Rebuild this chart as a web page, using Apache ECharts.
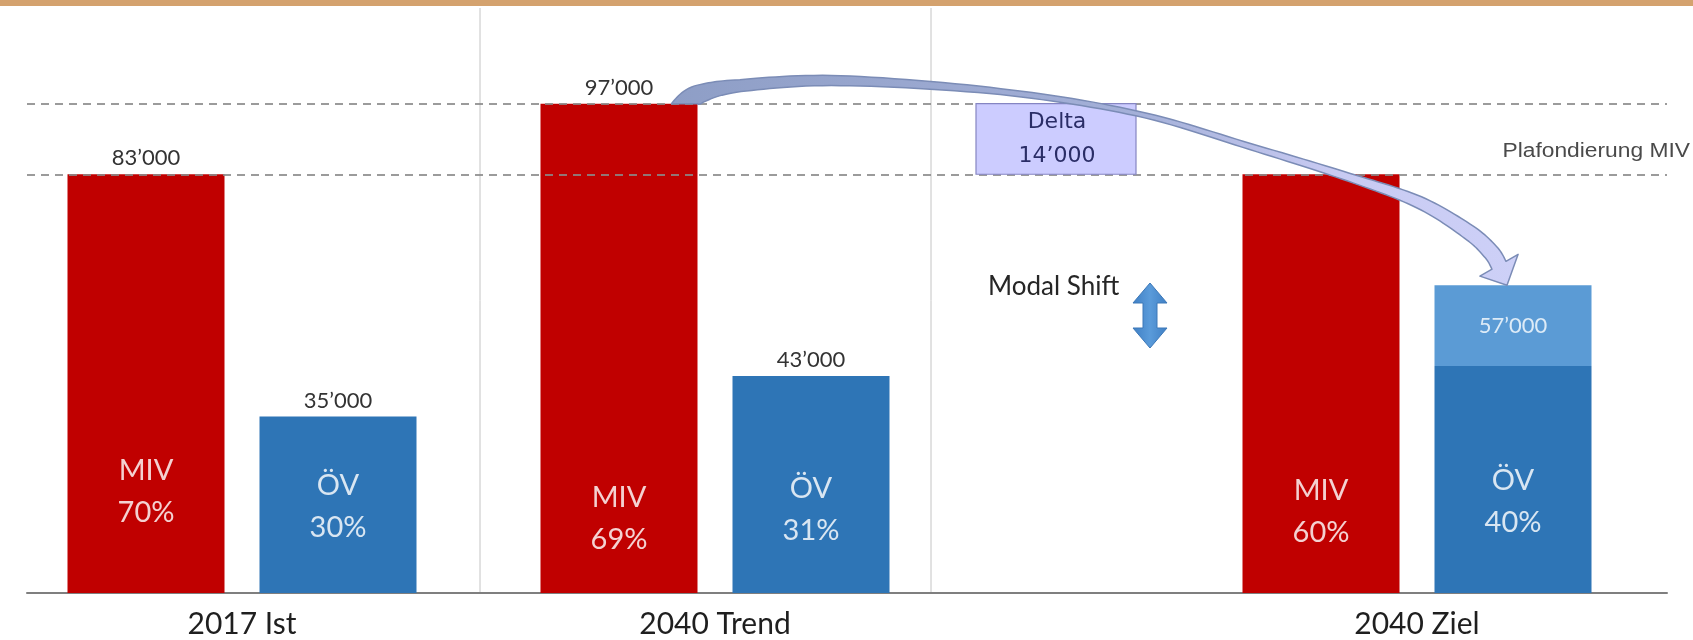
<!DOCTYPE html>
<html><head><meta charset="utf-8">
<script src="https://cdn.jsdelivr.net/npm/echarts@6/dist/echarts.min.js"></script>
<style>html,body{margin:0;padding:0;background:#fff}#c{width:1693px;height:640px}</style>
</head><body><div id="c"></div>
<script>
// ---- data ----
const categories = ["2017 Ist", "2040 Trend", "2040 Ziel"];
const mivValues  = [83000, 97000, 83000];
const mivShares  = [70, 69, 60];
const ovValues   = [35000, 43000, 45000];   // dark ÖV part (bar height)
const ovShift    = [0, 0, 16000];           // light ÖV part (modal shift, Ziel)
const ovTotals   = [35000, 43000, 57000];   // ÖV labels
const ovShares   = [30, 31, 40];
const capValue   = 83000;                   // Plafondierung MIV
const yMax       = 100000;

// ---- layout / style ----
const RED = '#C00000', BLUE = '#2E75B6', LIGHT = '#5B9BD5';
const BAR_W = 157, GAP_PX = 35;
const groupCenters = [242, 715, 1417];
const mivLabelDist = [59, 32, 39];
const ovLabelDist  = [44, 41, 49];
const GRID_TOP = 88.5, GRID_BOTTOM = 47;
const FONT = 'Lato, "Open Sans", sans-serif';

function fmt(n){ return String(n).replace(/\B(?=(\d{3})+(?!\d))/g, '\u2019'); }

const chart = echarts.init(document.getElementById('c'), null, {renderer:'canvas'});

const grids = [{left:27, right:26, top:GRID_TOP, bottom:GRID_BOTTOM, outerBoundsMode:'none'}];
const xAxes = [{type:'value', gridIndex:0, min:0, max:1, axisLine:{show:true, lineStyle:{color:'#7F7F7F', width:2}},
  axisTick:{show:false}, axisLabel:{show:false}, splitLine:{show:false}}];
const yAxes = [{type:'value', gridIndex:0, min:0, max:yMax, show:false, splitLine:{show:false}}];

const innerLabel = {show:true, position:'insideBottom', color:'rgba(255,255,255,0.82)',
  fontFamily:FONT, fontSize:29, lineHeight:42};
const topLabel = {show:true, position:'top', distance:5, color:'#333333', fontFamily:FONT, fontSize:22};

const series = [{
  type:'line', xAxisIndex:0, yAxisIndex:0, data:[], silent:true, z:6,
  markLine:{silent:true, symbol:['none','none'], label:{show:false}, animation:false,
    lineStyle:{type:[8,6], color:'#8a8a8a', width:2, opacity:0.85},
    data:[{yAxis: mivValues[1]}, {yAxis: capValue}]}
}];

categories.forEach((cat, i) => {
  const g = i + 1;
  grids.push({left: groupCenters[i] - 200, width: 400, top: GRID_TOP, bottom: GRID_BOTTOM, outerBoundsMode:'none'});
  xAxes.push({type:'category', gridIndex:g, data:[cat], boundaryGap:true,
    axisLine:{show:false}, axisTick:{show:false}, splitLine:{show:false},
    axisLabel:{show:true, color:'#1f1f1f', fontFamily:FONT, fontSize:30, margin:15, lineHeight:32}});
  yAxes.push({type:'value', gridIndex:g, min:0, max:yMax, show:false, splitLine:{show:false}});
  const base = {type:'bar', xAxisIndex:g, yAxisIndex:g, barWidth:BAR_W, barGap:(GAP_PX/BAR_W*100)+'%', z:2};
  series.push(Object.assign({}, base, {name:'MIV', stack:'miv'+i, data:[mivValues[i]], itemStyle:{color:RED},
    label:Object.assign({}, innerLabel, {distance:mivLabelDist[i], formatter:'MIV\n' + mivShares[i] + '%'})}));
  if (mivValues[i] !== capValue || i === 0) {
    series.push(Object.assign({}, base, {name:'MIV Wert', stack:'miv'+i, data:[0], itemStyle:{color:RED},
      label:Object.assign({}, topLabel, {formatter: fmt(mivValues[i])})}));
  }
  series.push(Object.assign({}, base, {name:'ÖV', stack:'ov'+i, data:[ovValues[i]], itemStyle:{color:BLUE},
    label:Object.assign({}, innerLabel, {distance:ovLabelDist[i], formatter:'ÖV\n' + ovShares[i] + '%'})}));
  if (ovShift[i] > 0) {
    series.push(Object.assign({}, base, {name:'ÖV Shift', stack:'ov'+i, data:[ovShift[i]], itemStyle:{color:LIGHT},
      label:{show:true, position:'inside', color:'#DDEBF7', fontFamily:FONT, fontSize:22, formatter: fmt(ovTotals[i])}}));
  } else {
    series.push(Object.assign({}, base, {name:'ÖV Wert', stack:'ov'+i, data:[0], itemStyle:{color:BLUE},
      label:Object.assign({}, topLabel, {formatter: fmt(ovTotals[i])})}));
  }
});

chart.setOption({animation:false, backgroundColor:'#ffffff', grid:grids, xAxis:xAxes, yAxis:yAxes, series:series});

// ---- annotations (anchored on the chart's own scales) ----
const yPix = v => chart.convertToPixel({yAxisIndex:0}, v);
const bandX = i => chart.convertToPixel({xAxisIndex:i+1}, categories[i]);
const mivX = i => bandX(i) - (BAR_W + GAP_PX) / 2;
const ovX  = i => bandX(i) + (BAR_W + GAP_PX) / 2;
const baseY = yPix(0);

// curved "delta" arrow from Trend MIV top to Ziel ÖV top
const S = [mivX(1) + BAR_W/2 - 13, yPix(mivValues[1])];
const T = [ovX(2) - 6, yPix(ovValues[2] + ovShift[2])];
const cl = [
  [S[0], S[1], 26], [S[0]+16, S[1]-10, 18], [S[0]+56, S[1]-18, 12], [S[0]+156, S[1]-23, 10],
  [S[0]+316, S[1]-12, 6], [S[0]+453, S[1]+10, 5], [S[0]+566, S[1]+43, 6],
  [T[0]-158, T[1]-108, 8], [T[0]-88, T[1]-83, 12], [T[0]-38, T[1]-53, 15], [T[0]-16, T[1]-33, 16], [T[0]-8, T[1]-20, 16]
];
const STEPS = 14;
function spline(pts, steps){
  const out = [];
  for (let i = 0; i < pts.length - 1; i++) {
    const p0 = pts[Math.max(i-1,0)], p1 = pts[i], p2 = pts[i+1], p3 = pts[Math.min(i+2, pts.length-1)];
    for (let s = 0; s < steps; s++) {
      const t = s/steps, t2 = t*t, t3 = t2*t;
      const f = (a,b,c,d) => 0.5*((2*b) + (-a+c)*t + (2*a-5*b+4*c-d)*t2 + (-a+3*b-3*c+d)*t3);
      out.push({x:f(p0[0],p1[0],p2[0],p3[0]), y:f(p0[1],p1[1],p2[1],p3[1]), w:p1[2] + (p2[2]-p1[2])*t});
    }
  }
  const L = pts[pts.length-1]; out.push({x:L[0], y:L[1], w:L[2]});
  return out;
}
const sm = spline(cl, STEPS);
const left = [], right = [];
let nLast = [0,0];
sm.forEach((p, k) => {
  const a = sm[Math.max(k-1,0)], b = sm[Math.min(k+1, sm.length-1)];
  const tx = b.x - a.x, ty = b.y - a.y, len = Math.hypot(tx, ty) || 1;
  let nx = -ty/len, ny = tx/len;
  if (k < STEPS) {               // tail sits flat on the bar top
    const al = k / STEPS;
    nx = (1-al)*1 + al*nx; ny = al*ny;
    const l2 = Math.hypot(nx, ny) || 1; nx /= l2; ny /= l2;
  }
  left.push([p.x + nx*p.w/2, p.y + ny*p.w/2]);
  right.push([p.x - nx*p.w/2, p.y - ny*p.w/2]);
  nLast = [nx, ny];
});
const H = sm[sm.length-1];
const arrowPts = left.concat([[H.x + nLast[0]*22, H.y + nLast[1]*22], T, [H.x - nLast[0]*22, H.y - nLast[1]*22]], right.reverse());

// Modal shift double arrow
const mx = 1150, my = 315.5;
const dbl = [[0,-32.5],[17,-12.5],[7,-12.5],[7,12.5],[17,12.5],[0,32.5],[-17,12.5],[-7,12.5],[-7,-12.5],[-17,-12.5]]
  .map(p => [mx + p[0], my + p[1]]);

const yTop = yPix(mivValues[1]), yCap = yPix(capValue);

chart.setOption({graphic:[
  {type:'rect', shape:{x:0, y:0, width:1693, height:6}, style:{fill:'#D4A26E'}, z:0, silent:true},
  {type:'line', shape:{x1:480, y1:8, x2:480, y2:baseY}, style:{stroke:'#C4C4C4', lineWidth:1}, z:0, silent:true},
  {type:'line', shape:{x1:931, y1:8, x2:931, y2:baseY}, style:{stroke:'#C4C4C4', lineWidth:1}, z:0, silent:true},
  {type:'rect', shape:{x:976, y:yTop, width:160, height:yCap - yTop},
    style:{fill:'#CCCCFF', stroke:'#8585C2', lineWidth:1.2}, z:50, silent:true},
  {type:'text', x:1057, y:(yTop + yCap)/2, z:51, silent:true,
    style:{text:'Delta\n' + fmt(mivValues[1] - capValue), fill:'#2A2D66', font:'22px "DejaVu Sans", sans-serif',
      align:'center', verticalAlign:'middle', lineHeight:34}},
  {type:'text', x:1690, y:151, scaleX:1.14, z:51, silent:true,
    style:{text:'Plafondierung MIV', fill:'#4A4A4A', font:'20px "Liberation Sans", Arial, sans-serif',
      align:'right', verticalAlign:'middle'}},
  {type:'text', x:988, y:287, z:51, silent:true,
    style:{text:'Modal Shift', fill:'#262626', font:'26px Lato, sans-serif', align:'left', verticalAlign:'middle'}},
  {type:'polygon', shape:{points:dbl}, z:51, silent:true,
    style:{fill:{type:'linear', x:0, y:0, x2:1, y2:0, colorStops:[{offset:0, color:'#3F7FC4'},{offset:0.5, color:'#5A9BDA'},{offset:1, color:'#3F7FC4'}]},
      stroke:'#3C78B8', lineWidth:1}},
  {type:'polygon', shape:{points:arrowPts}, z:100, silent:true,
    style:{fill:{type:'linear', x:0, y:0, x2:1, y2:0, colorStops:[
      {offset:0, color:'#8E9EC6'},{offset:0.55, color:'#A4B0D8'},{offset:0.78, color:'#C8CAF2'},{offset:1, color:'#CDD0F7'}]},
      stroke:'#7B8CB6', lineWidth:1.5, lineJoin:'round'}}
]});
</script>
</body></html>
